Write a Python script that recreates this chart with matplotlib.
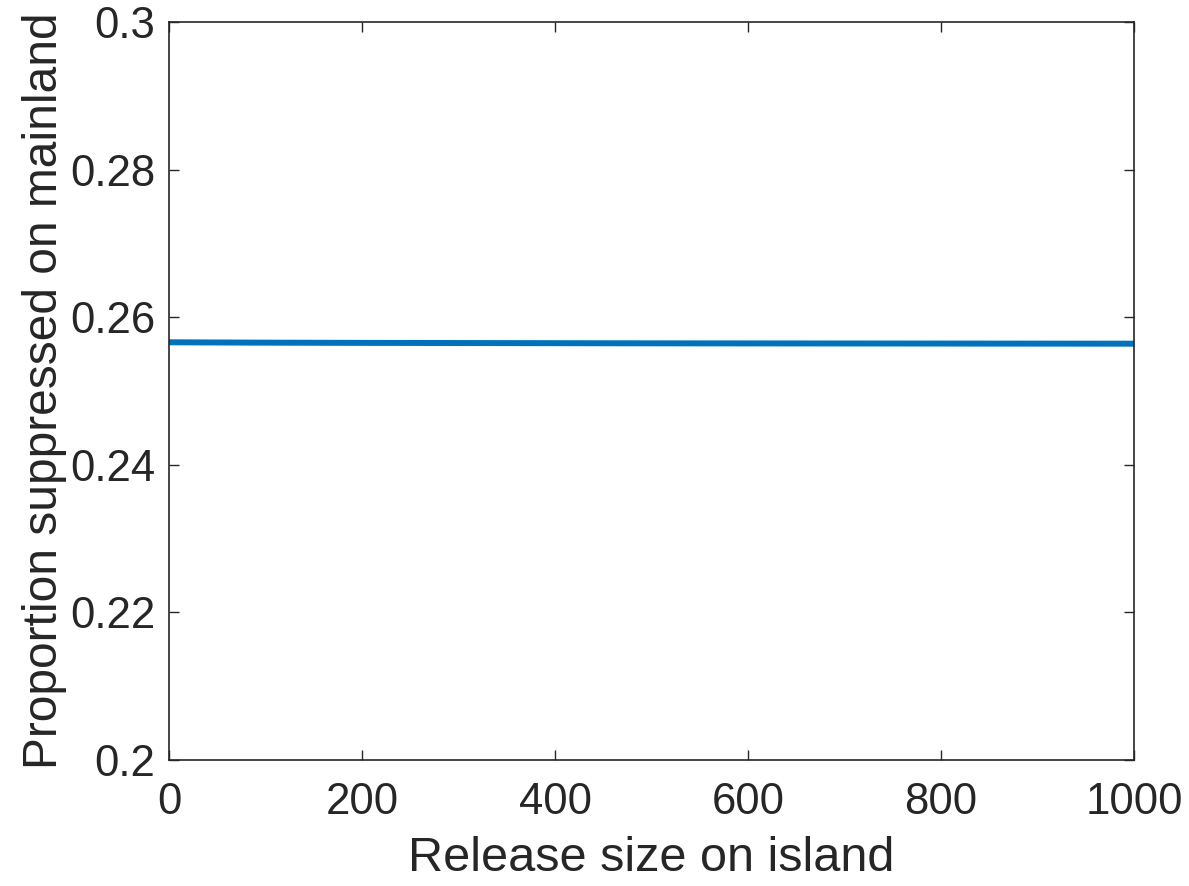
import numpy as np
import matplotlib.pyplot as plt

release_size = [0, 100, 200, 300, 400, 500, 600, 700, 800, 900, 1000]
prop_suppressed = [0.25660, 0.25655, 0.25652, 0.25650, 0.25648, 0.25646,
                   0.25645, 0.25644, 0.25643, 0.25642, 0.25641]

plt.rcParams['font.family'] = ['Liberation Sans', 'DejaVu Sans']

fig = plt.figure(figsize=(11.89, 8.86), dpi=100)
ax = fig.add_axes([169/1189, 1 - 760/886, (1134-169)/1189, (760-22)/886])
ax.plot(release_size, prop_suppressed, color='#0072BD', lw=4.3)

ax.set_xlim(0, 1000)
ax.set_ylim(0.2, 0.3)
ax.set_xticks([0, 200, 400, 600, 800, 1000])
ax.set_yticks([0.2, 0.22, 0.24, 0.26, 0.28, 0.3])
ax.set_yticklabels(['0.2', '0.22', '0.24', '0.26', '0.28', '0.3'])
ax.tick_params(direction='in', top=True, right=True, labelsize=31.5,
               length=7.5, width=1, colors='#262626')
ax.tick_params(axis='x', pad=16)
ax.tick_params(axis='y', pad=10)
for s in ax.spines.values():
    s.set_color('#262626')
    s.set_linewidth(1.2)
ax.set_xlabel('Release size on island', fontsize=35, color='#262626', labelpad=9)
ax.set_ylabel('Proportion suppressed on mainland', fontsize=34.5, color='#262626', labelpad=2)

fig.savefig('out.png', dpi=100)
